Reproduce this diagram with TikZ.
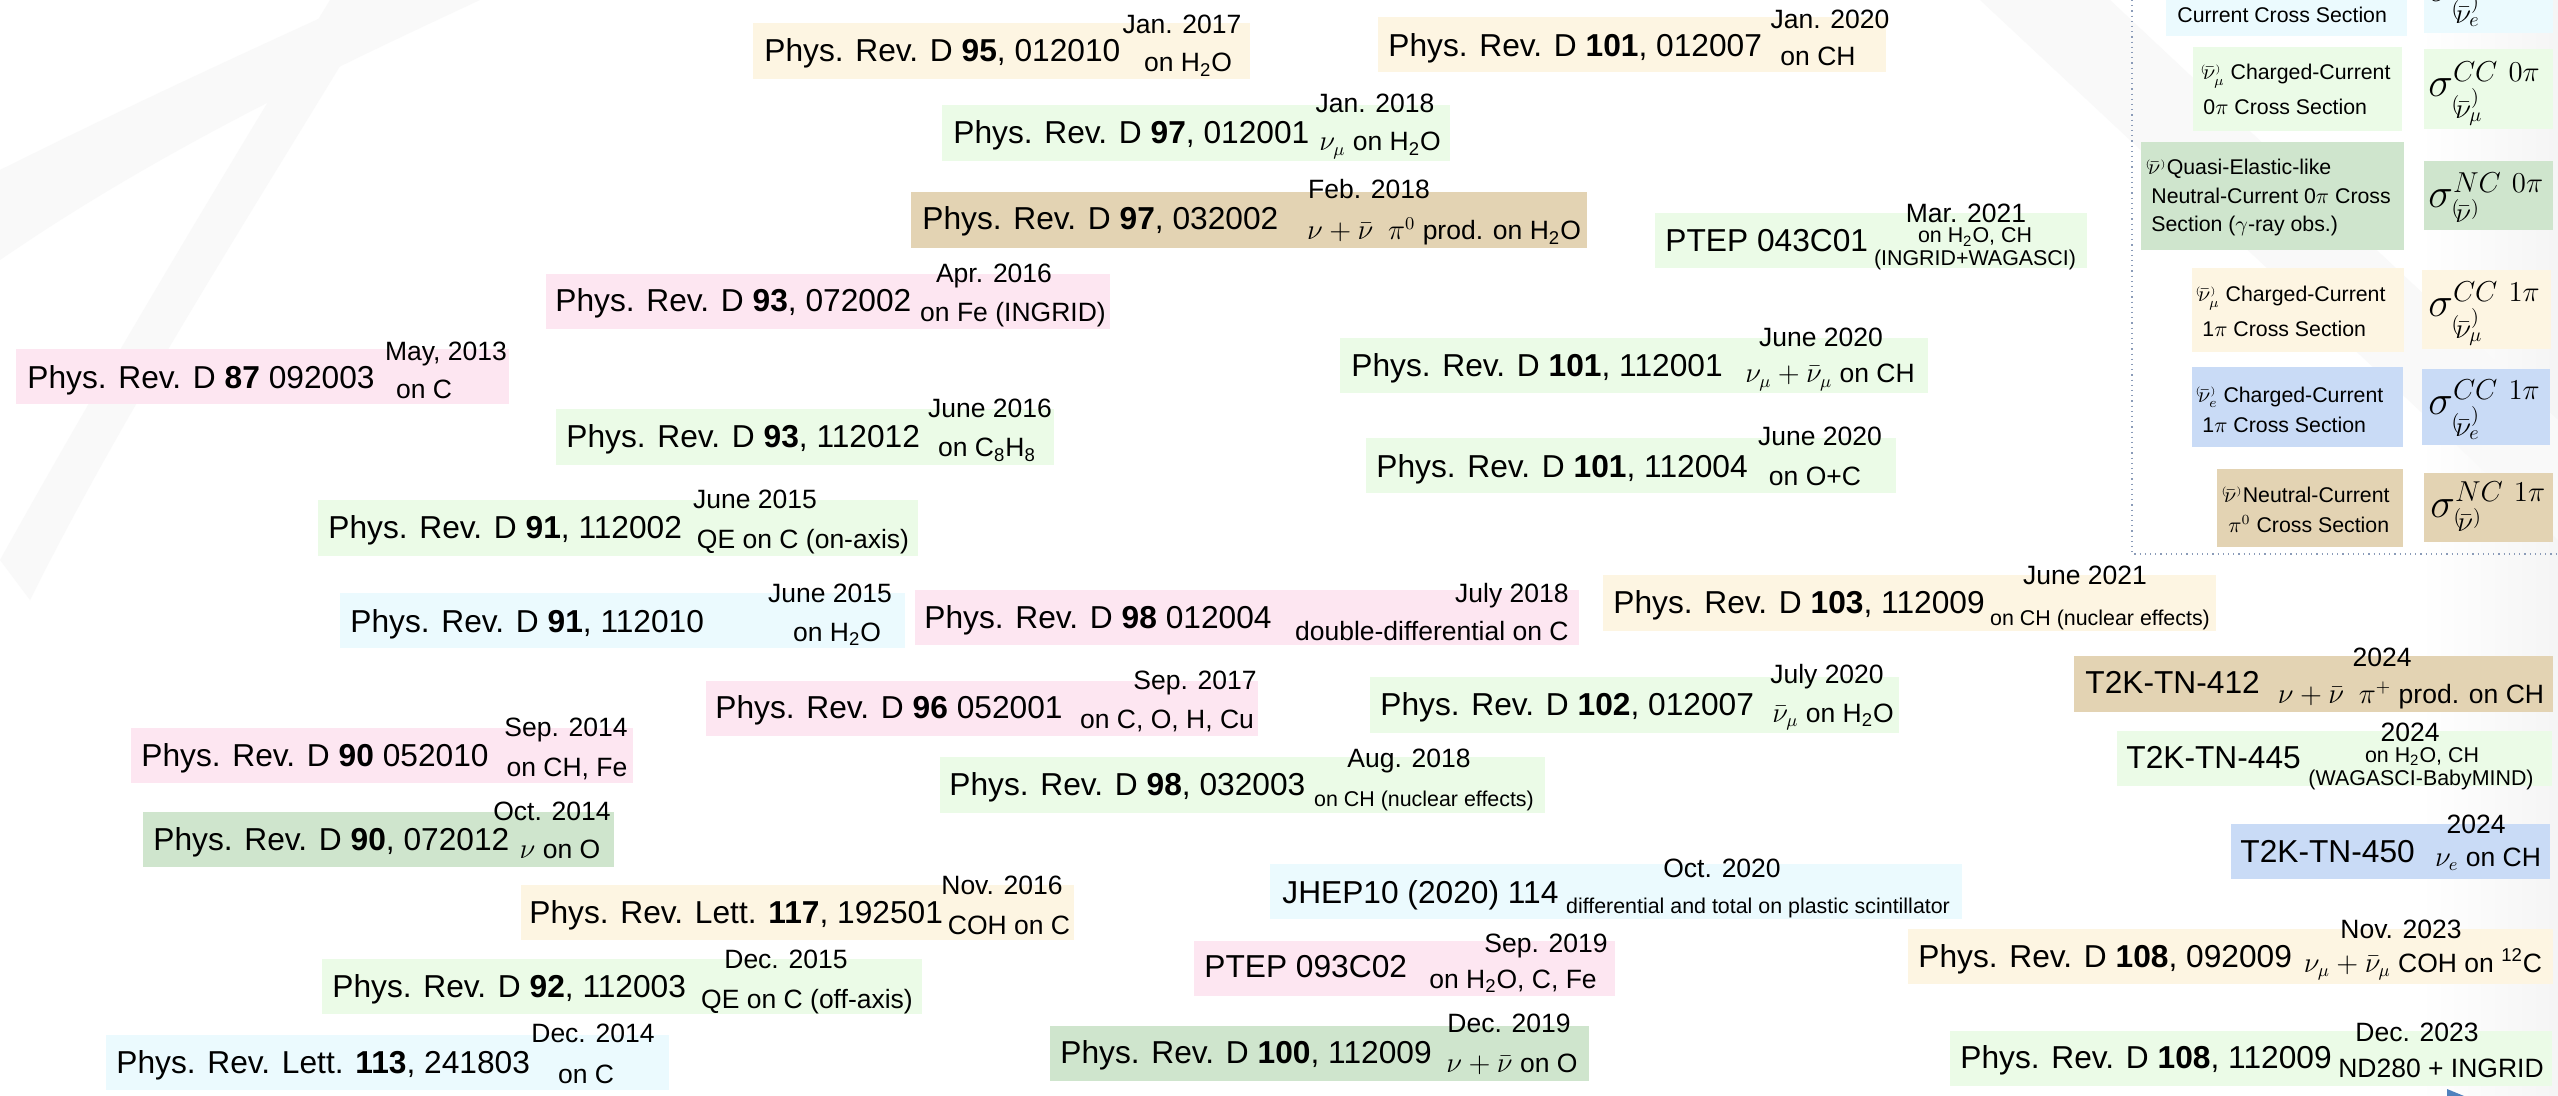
\documentclass[tikz,border=0pt]{standalone}
\usepackage{amsmath}
\usepackage{fontspec}
\setmainfont{Liberation Sans}
\newcommand\mainf{\fontsize{15.85}{19}\selectfont}
\newcommand\datef{\fontsize{13.25}{16}\selectfont}
\newcommand\smallf{\fontsize{10.7}{13}\selectfont}
\newcommand\legf{\fontsize{10.65}{13}\selectfont}
\newcommand\sigf{\fontsize{20}{24}\selectfont}
% nu with parenthesised bar: (nu-bar)
\newcommand\pnus[1]{{}^{\scriptscriptstyle(}\!\bar\nu^{\scriptscriptstyle)}_{#1}}
\newcommand\pnun{{}^{\scriptscriptstyle(}\!\bar\nu^{\scriptscriptstyle)}}
\newcommand\hto{H\textsubscript{2}O}
\definecolor{cYel}{HTML}{FDF5E2}
\definecolor{cGrn}{HTML}{EBFBE7}
\definecolor{cTan}{HTML}{E3D3B3}
\definecolor{cPnk}{HTML}{FDE6F1}
\definecolor{cCyn}{HTML}{EBFAFE}
\definecolor{cDkg}{HTML}{CFE5CD}
\definecolor{cBlu}{HTML}{C9DBF6}
\definecolor{frameC}{HTML}{8A9BB8}
\definecolor{wmC}{HTML}{F9F9F9}
\definecolor{tipC}{HTML}{4F81BD}
\tikzset{
 mainT/.style={anchor=base west, inner sep=0pt, font=\mainf},
 dateT/.style={anchor=base, inner sep=0pt, font=\datef},
 smallT/.style={anchor=base, inner sep=0pt, font=\smallf},
 legT/.style={anchor=base west, inner sep=0pt, font=\legf},
 sigT/.style={anchor=base west, inner sep=0pt, font=\sigf},
}
\begin{document}
\begin{tikzpicture}[x=0.5pt,y=-0.5pt]
\useasboundingbox (0,0) rectangle (2558,1096);
\fill[white] (0,0) rectangle (2558,1096);
% faint watermark swooshes
\fill[wmC] (0,170) .. controls (120,110) and (250,50) .. (360,0) -- (480,0) .. controls (330,70) and (160,150) .. (0,260) -- cycle;
\fill[wmC] (0,560) .. controls (100,380) and (220,180) .. (330,0) -- (380,0) .. controls (260,200) and (130,400) .. (30,600) -- cycle;
\shade[left color=white, right color=gray!8] (2420,0) rectangle (2558,1096);
\fill[wmC] (1980,0) -- (2110,0) -- (2558,420) -- (2558,540) -- cycle;

% ---------- entries ----------
\fill[cYel] (753,23) rectangle (1250,79);
\node[mainT] (p95) at (764,62) {Phys. Rev. D \textbf{95}, 012010};
\node[dateT] (p95d) at (1182,34) {Jan. 2017};
\node[dateT] (p95t) at (1188,72) {on \hto};

\fill[cYel] (1378,17) rectangle (1886,72);
\node[mainT] (p101a) at (1388,57) {Phys. Rev. D \textbf{101}, 012007};
\node[dateT] (p101ad) at (1830,29) {Jan. 2020};
\node[dateT] (p101at) at (1818,66) {on CH};

\fill[cGrn] (942,105) rectangle (1450,161);
\node[mainT] (p97a) at (953,144) {Phys. Rev. D \textbf{97}, 012001};
\node[dateT] (p97ad) at (1375,113) {Jan. 2018};
\node[dateT] (p97at) at (1380,151) {$\nu_\mu$ on \hto};

\fill[cTan] (911,192) rectangle (1587,248);
\node[mainT] (p97b) at (922,230) {Phys. Rev. D \textbf{97}, 032002};
\node[dateT] (p97bd) at (1369,199) {Feb. 2018};
\node[dateT] (p97bt) at (1444,240) {$\nu+\bar\nu\ \ \pi^0$ prod. on \hto};

\fill[cGrn] (1655,213) rectangle (2087,268);
\node[mainT] (ptepa) at (1665,252) {PTEP 043C01};
\node[dateT] (ptepad) at (1966,223) {Mar. 2021};
\node[smallT] (ptepat) at (1975,243) {on \hto, CH};
\node[smallT] (ptepau) at (1975,266) {(INGRID+WAGASCI)};

\fill[cPnk] (546,274) rectangle (1110,329);
\node[mainT] (p93a) at (555,312) {Phys. Rev. D \textbf{93}, 072002};
\node[dateT] (p93ad) at (994,283) {Apr. 2016};
\node[dateT] (p93at) at (1013,322) {on Fe (INGRID)};

\fill[cPnk] (16,349) rectangle (509,404);
\node[mainT] (p87) at (27,388) {Phys. Rev. D \textbf{87} 092003};
\node[dateT] (p87d) at (446,361) {May, 2013};
\node[dateT] (p87t) at (424,399) {on C};

\fill[cGrn] (1340,338) rectangle (1928,393);
\node[mainT] (p101b) at (1351,377) {Phys. Rev. D \textbf{101}, 112001};
\node[dateT] (p101bd) at (1821,347) {June 2020};
\node[dateT] (p101bt) at (1830,383) {$\nu_\mu+\bar\nu_\mu$ on CH};

\fill[cGrn] (556,409) rectangle (1054,465);
\node[mainT] (p93b) at (566,447) {Phys. Rev. D \textbf{93}, 112012};
\node[dateT] (p93bd) at (990,417) {June 2016};
\node[dateT] (p93bt) at (987,457) {on C\textsubscript{8}H\textsubscript{8}};

\fill[cGrn] (1366,438) rectangle (1896,493);
\node[mainT] (p101c) at (1376,477) {Phys. Rev. D \textbf{101}, 112004};
\node[dateT] (p101cd) at (1820,445) {June 2020};
\node[dateT] (p101ct) at (1815,485) {on O+C};

\fill[cGrn] (318,500) rectangle (918,556);
\node[mainT] (p91a) at (328,538) {Phys. Rev. D \textbf{91}, 112002};
\node[dateT] (p91ad) at (755,508) {June 2015};
\node[dateT] (p91at) at (803,548) {QE on C (on-axis)};

\fill[cCyn] (340,593) rectangle (905,648);
\node[mainT] (p91b) at (350,632) {Phys. Rev. D \textbf{91}, 112010};
\node[dateT] (p91bd) at (830,602) {June 2015};
\node[dateT] (p91bt) at (837,641) {on \hto};

\fill[cPnk] (915,590) rectangle (1579,645);
\node[mainT] (p98a) at (924,628) {Phys. Rev. D \textbf{98} 012004};
\node[dateT, anchor=base east] (p98ad) at (1569,602) {July 2018};
\node[dateT, anchor=base east] (p98at) at (1569,640) {double-differential on C};

\fill[cYel] (1603,575) rectangle (2216,631);
\node[mainT] (p103) at (1613,613) {Phys. Rev. D \textbf{103}, 112009};
\node[dateT] (p103d) at (2085,584) {June 2021};
\node[smallT] (p103t) at (2100,625) {on CH (nuclear effects)};

\fill[cPnk] (706,681) rectangle (1258,736);
\node[mainT] (p96) at (715,718) {Phys. Rev. D \textbf{96} 052001};
\node[dateT] (p96d) at (1195,689) {Sep. 2017};
\node[dateT] (p96t) at (1167,728) {on C, O, H, Cu};

\fill[cGrn] (1370,677) rectangle (1899,733);
\node[mainT] (p102) at (1380,715) {Phys. Rev. D \textbf{102}, 012007};
\node[dateT] (p102d) at (1827,683) {July 2020};
\node[dateT] (p102t) at (1833,722) {$\bar\nu_\mu$ on \hto};

\fill[cTan] (2074,656) rectangle (2553,712);
\node[mainT] (tn412) at (2085,693) {T2K-TN-412};
\node[dateT] (tn412d) at (2382,666) {2024};
\node[dateT] (tn412t) at (2411,703) {$\nu+\bar\nu\ \ \pi^+$ prod. on CH};

\fill[cPnk] (131,728) rectangle (633,783);
\node[mainT] (p90a) at (141,766) {Phys. Rev. D \textbf{90} 052010};
\node[dateT] (p90ad) at (566,736) {Sep. 2014};
\node[dateT] (p90at) at (567,776) {on CH, Fe};

\fill[cGrn] (940,757) rectangle (1545,813);
\node[mainT] (p98b) at (949,795) {Phys. Rev. D \textbf{98}, 032003};
\node[dateT] (p98bd) at (1409,767) {Aug. 2018};
\node[smallT] (p98bt) at (1424,806) {on CH (nuclear effects)};

\fill[cGrn] (2117,731) rectangle (2552,786);
\node[mainT] (tn445) at (2126,768) {T2K-TN-445};
\node[dateT] (tn445d) at (2410,741) {2024};
\node[smallT] (tn445t) at (2422,762) {on \hto, CH};
\node[smallT] (tn445u) at (2421,785) {(WAGASCI-BabyMIND)};

\fill[cDkg] (143,812) rectangle (614,867);
\node[mainT] (p90b) at (153,850) {Phys. Rev. D \textbf{90}, 072012};
\node[dateT] (p90bd) at (552,820) {Oct. 2014};
\node[dateT] (p90bt) at (560,858) {$\nu$ on O};

\fill[cBlu] (2231,824) rectangle (2550,879);
\node[mainT] (tn450) at (2240,862) {T2K-TN-450};
\node[dateT] (tn450d) at (2476,833) {2024};
\node[dateT] (tn450t) at (2488,866) {$\nu_e$ on CH};

\fill[cYel] (521,885) rectangle (1074,940);
\node[mainT] (prl117) at (529,923) {Phys. Rev. Lett. \textbf{117}, 192501};
\node[dateT] (prl117d) at (1002,894) {Nov. 2016};
\node[dateT] (prl117t) at (1009,934) {COH on C};

\fill[cCyn] (1270,864) rectangle (1962,919);
\node[mainT] (jhep) at (1282,903) {JHEP10 (2020) 114};
\node[dateT] (jhepd) at (1722,877) {Oct. 2020};
\node[smallT] (jhept) at (1758,913) {differential and total on plastic scintillator};

\fill[cYel] (1908,929) rectangle (2553,984);
\node[mainT] (p108a) at (1918,967) {Phys. Rev. D \textbf{108}, 092009};
\node[dateT] (p108ad) at (2401,938) {Nov. 2023};
\node[dateT] (p108at) at (2423,972) {$\nu_\mu+\bar\nu_\mu$ COH on \textsuperscript{12}C};

\fill[cGrn] (322,959) rectangle (922,1014);
\node[mainT] (p92) at (332,997) {Phys. Rev. D \textbf{92}, 112003};
\node[dateT] (p92d) at (786,968) {Dec. 2015};
\node[dateT] (p92t) at (807,1008) {QE on C (off-axis)};

\fill[cPnk] (1194,941) rectangle (1615,996);
\node[mainT] (ptepb) at (1204,977) {PTEP 093C02};
\node[dateT] (ptepbd) at (1546,952) {Sep. 2019};
\node[dateT] (ptepbt) at (1513,988) {on \hto, C, Fe};

\fill[cCyn] (106,1035) rectangle (669,1090);
\node[mainT] (prl113) at (116,1073) {Phys. Rev. Lett. \textbf{113}, 241803};
\node[dateT] (prl113d) at (593,1042) {Dec. 2014};
\node[dateT] (prl113t) at (586,1083) {on C};

\fill[cDkg] (1050,1026) rectangle (1589,1081);
\node[mainT] (p100) at (1060,1063) {Phys. Rev. D \textbf{100}, 112009};
\node[dateT] (p100d) at (1509,1032) {Dec. 2019};
\node[dateT] (p100t) at (1512,1072) {$\nu+\bar\nu$ on O};

\fill[cGrn] (1950,1031) rectangle (2552,1086);
\node[mainT] (p108b) at (1960,1068) {Phys. Rev. D \textbf{108}, 112009};
\node[dateT] (p108bd) at (2417,1041) {Dec. 2023};
\node[dateT] (p108bt) at (2441,1077) {ND280 + INGRID};

\fill[tipC] (2447,1089) -- (2464,1096) -- (2447,1096) -- cycle;

% ---------- legend ----------
\draw[frameC, dotted, line width=0.6pt] (2132,0) -- (2132,554) -- (2558,554);

\fill[cCyn] (2166,0) rectangle (2407,36);
\fill[cCyn] (2424,0) rectangle (2553,33);
\node[legT] (l1a) at (2177,23) {Current Cross Section};
\node[sigT] (s1) at (2428,2) {$\sigma^{CC}_{\pnus{e}}$};

\fill[cGrn] (2193,47) rectangle (2402,131);
\fill[cGrn] (2424,49) rectangle (2553,129);
\node[legT] (l2a) at (2200,80) {$\pnus{\mu}$ Charged-Current};
\node[legT] (l2b) at (2203,115) {0$\pi$ Cross Section};
\node[sigT] (s2) at (2428,97) {$\sigma^{CC\ 0\pi}_{\pnus{\mu}}$};

\fill[cDkg] (2141,142) rectangle (2404,250);
\fill[cDkg] (2424,161) rectangle (2553,230);
\node[legT] (l3a) at (2145,175) {$\pnun$Quasi-Elastic-like};
\node[legT] (l3b) at (2151,204) {Neutral-Current 0$\pi$ Cross};
\node[legT] (l3c) at (2151,232) {Section ($\gamma$-ray obs.)};
\node[sigT] (s3) at (2428,208) {$\sigma^{NC\ 0\pi}_{\pnun}$};

\fill[cYel] (2192,268) rectangle (2404,352);
\fill[cYel] (2422,270) rectangle (2551,349);
\node[legT] (l4a) at (2195,302) {$\pnus{\mu}$ Charged-Current};
\node[legT] (l4b) at (2202,337) {1$\pi$ Cross Section};
\node[sigT] (s4) at (2428,317) {$\sigma^{CC\ 1\pi}_{\pnus{\mu}}$};

\fill[cBlu] (2192,367) rectangle (2403,447);
\fill[cBlu] (2422,369) rectangle (2550,445);
\node[legT] (l5a) at (2195,402) {$\pnus{e}$ Charged-Current};
\node[legT] (l5b) at (2202,432) {1$\pi$ Cross Section};
\node[sigT] (s5) at (2428,415) {$\sigma^{CC\ 1\pi}_{\pnus{e}}$};

\fill[cTan] (2217,469) rectangle (2403,547);
\fill[cTan] (2424,473) rectangle (2553,542);
\node[legT] (l6a) at (2221,502) {$\pnun$Neutral-Current};
\node[legT] (l6b) at (2228,532) {$\pi^0$ Cross Section};
\node[sigT] (s6) at (2430,517) {$\sigma^{NC\ 1\pi}_{\pnun}$};
\end{tikzpicture}
\end{document}
